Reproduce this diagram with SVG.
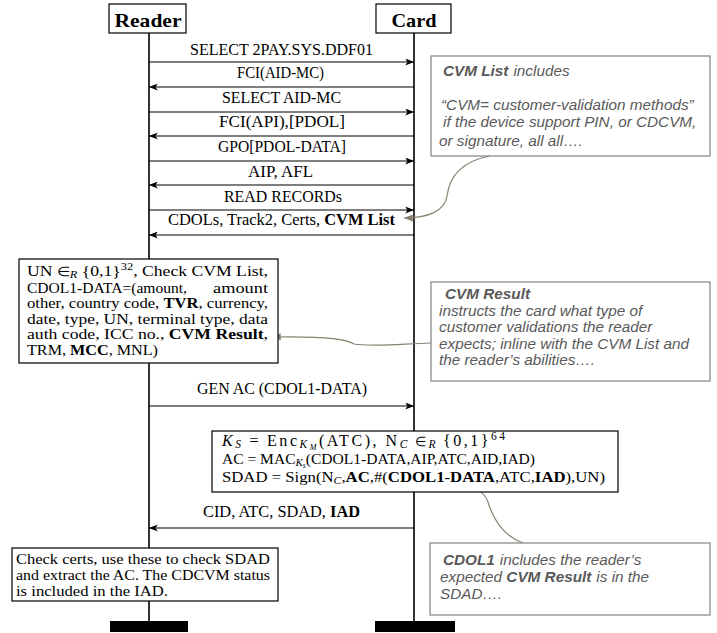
<svg xmlns="http://www.w3.org/2000/svg" width="717" height="633" viewBox="0 0 717 633">
  <style>
    .lbl { font-family: "Liberation Serif", "Times New Roman", serif; font-size: 16px; fill: #000; }
    .hdr { font-family: "Liberation Serif", "Times New Roman", serif; font-size: 19px; font-weight: bold; fill: #000; }
    .box { fill: #fff; stroke: #000; stroke-width: 1.2; }
    .life { stroke: #000; stroke-width: 1.6; fill: none; }
    .msg { stroke: #000; stroke-width: 1.1; fill: none; marker-end: url(#ah); }
    .txt { font-family: "Liberation Serif", "Times New Roman", serif; font-size: 15px; fill: #000; }
    .math { font-size: 16px; }
    .b { font-weight: bold; }
    .i { font-style: italic; }
    .sub { font-size: 10.5px; }
    .sub2 { font-size: 11.5px; }
    .el { font-size: 13px; }
    .note { fill: #fff; stroke: #808080; stroke-width: 1.2; }
    .ntxt { font-family: "Liberation Sans", Arial, sans-serif; font-size: 15.3px; font-style: italic; fill: #595959; }
    .link { stroke: #8a8070; stroke-width: 1.2; fill: none; marker-end: url(#gh); }
  </style>
  <defs>
    <marker id="ah" viewBox="0 0 10 8" refX="10" refY="4" markerWidth="9" markerHeight="7" orient="auto" markerUnits="userSpaceOnUse">
      <path d="M0,0 L10,4 L0,8 L2.5,4 z" fill="#000"/>
    </marker>
    <marker id="gh" viewBox="0 0 10 8" refX="10" refY="4" markerWidth="9" markerHeight="7" orient="auto" markerUnits="userSpaceOnUse">
      <path d="M0,0 L10,4 L0,8 z" fill="#8a8070"/>
    </marker>
  </defs>

  <!-- lifelines -->
  <g id="lifelines">
    <line class="life" x1="149" y1="33" x2="149" y2="622"/>
    <line class="life" x1="414" y1="33" x2="414" y2="622"/>
    <rect x="110" y="621" width="78" height="11" fill="#000"/>
    <rect x="375" y="621" width="80" height="11" fill="#000"/>
  </g>

  <!-- participants -->
  <g id="reader">
    <rect class="box" x="109" y="4" width="77" height="29"/>
    <text class="hdr" x="148" y="27" text-anchor="middle" textLength="67" lengthAdjust="spacingAndGlyphs">Reader</text>
  </g>
  <g id="card">
    <rect class="box" x="376" y="4" width="75" height="29"/>
    <text class="hdr" x="414" y="27" text-anchor="middle" textLength="45" lengthAdjust="spacingAndGlyphs">Card</text>
  </g>

  <!-- messages -->
  <g id="connectors">
    <line class="msg" x1="149" y1="62" x2="414" y2="62"/>
    <line class="msg" x1="414" y1="87" x2="149" y2="87"/>
    <line class="msg" x1="149" y1="112" x2="414" y2="112"/>
    <line class="msg" x1="414" y1="136" x2="149" y2="136"/>
    <line class="msg" x1="149" y1="161" x2="414" y2="161"/>
    <line class="msg" x1="414" y1="185" x2="149" y2="185"/>
    <line class="msg" x1="149" y1="210" x2="414" y2="210"/>
    <line class="msg" x1="414" y1="235" x2="149" y2="235"/>
    <line class="msg" x1="149" y1="406" x2="414" y2="406"/>
    <line class="msg" x1="414" y1="528" x2="149" y2="528"/>

    <text class="lbl" x="190" y="55" textLength="183" lengthAdjust="spacingAndGlyphs">SELECT 2PAY.SYS.DDF01</text>
    <text class="lbl" x="237" y="78" textLength="87" lengthAdjust="spacingAndGlyphs">FCI(AID-MC)</text>
    <text class="lbl" x="222" y="103" textLength="119" lengthAdjust="spacingAndGlyphs">SELECT AID-MC</text>
    <text class="lbl" x="219" y="127" textLength="126" lengthAdjust="spacingAndGlyphs">FCI(API),[PDOL]</text>
    <text class="lbl" x="218" y="152" textLength="128" lengthAdjust="spacingAndGlyphs">GPO[PDOL-DATA]</text>
    <text class="lbl" x="248" y="177" textLength="65" lengthAdjust="spacingAndGlyphs">AIP, AFL</text>
    <text class="lbl" x="224" y="202" textLength="118" lengthAdjust="spacingAndGlyphs">READ RECORDs</text>
    <text class="lbl" x="168" y="225" textLength="227" lengthAdjust="spacingAndGlyphs">CDOLs, Track2, Certs, <tspan class="b">CVM List</tspan></text>
    <text class="lbl" x="197" y="394" textLength="170" lengthAdjust="spacingAndGlyphs">GEN AC (CDOL1-DATA)</text>
    <text class="lbl" x="203" y="517" textLength="157" lengthAdjust="spacingAndGlyphs">CID, ATC, SDAD, <tspan class="b">IAD</tspan></text>

    <!-- annotation links -->
    <path class="link" d="M490,156 C458,162 449,180 447,196 C445,211 428,218 404,218"/>
    <path class="link" d="M431,343 C400,344 372,347 354,344 C345,338 320,336 272,337"/>
    <path class="link" d="M523,543 C500,535 492,515 488,502 C484,490 472,486 459,485"/>
  </g>

  <!-- reader computation before GEN AC -->
  <g id="reader-prepare">
    <rect class="box" x="19" y="259" width="259" height="104"/>
    <text class="txt" x="27" y="276" textLength="241" lengthAdjust="spacingAndGlyphs">UN <tspan class="el">∈</tspan><tspan class="sub i" dy="2">R</tspan><tspan dy="-2"> {0,1}</tspan><tspan class="sub" dy="-6">32</tspan><tspan dy="6">, Check CVM List,</tspan></text>
    <text class="txt" x="27" y="292.6" textLength="160" lengthAdjust="spacingAndGlyphs">CDOL1-DATA=(amount,</text>
    <text class="txt" x="213" y="292.6" textLength="55" lengthAdjust="spacingAndGlyphs">amount</text>
    <text class="txt" x="27" y="308.2" textLength="241" lengthAdjust="spacingAndGlyphs">other, country code, <tspan class="b">TVR</tspan>, currency,</text>
    <text class="txt" x="27" y="323.8" textLength="241" lengthAdjust="spacingAndGlyphs">date, type, UN, terminal type, data</text>
    <text class="txt" x="27" y="339.4" textLength="241" lengthAdjust="spacingAndGlyphs">auth code, ICC no., <tspan class="b">CVM Result</tspan>,</text>
    <text class="txt" x="27" y="355" textLength="131" lengthAdjust="spacingAndGlyphs">TRM, <tspan class="b">MCC</tspan>, MNL)</text>
  </g>

  <!-- card computation -->
  <g id="card-compute">
    <rect class="box" x="212" y="431" width="406" height="61"/>
    <text class="txt math" x="222" y="446" textLength="283" lengthAdjust="spacing"><tspan class="i">K</tspan><tspan class="sub2 i" dy="2">S</tspan><tspan dy="-2" dx="6">=</tspan><tspan dx="6">Enc</tspan><tspan class="sub2 i" dy="2">K</tspan><tspan class="i" font-size="8px" dy="1.5">M</tspan><tspan dy="-3.5">(ATC), N</tspan><tspan class="sub2 i" dy="2">C</tspan><tspan dy="-2" dx="5" class="el">∈</tspan><tspan class="sub2 i" dy="2">R</tspan><tspan dy="-2" dx="5">{0,1}</tspan><tspan class="sub2" dy="-6">64</tspan></text>
    <text class="txt" x="222" y="464" textLength="313" lengthAdjust="spacingAndGlyphs">AC = MAC<tspan class="sub i" dy="2">K</tspan><tspan class="i" font-size="7.5px" dy="1.5">s</tspan><tspan dy="-3.5">(CDOL1-DATA,AIP,ATC,AID,IAD)</tspan></text>
    <text class="txt" x="222" y="482" textLength="383" lengthAdjust="spacingAndGlyphs">SDAD = Sign(N<tspan class="sub i" dy="2">C</tspan><tspan dy="-2">,</tspan><tspan class="b">AC</tspan>,#(<tspan class="b">CDOL1-DATA</tspan>,ATC,<tspan class="b">IAD</tspan>),UN)</text>
  </g>

  <!-- reader verification -->
  <g id="reader-verify">
    <rect class="box" x="12" y="548" width="266" height="53"/>
    <text class="txt" x="16" y="564" textLength="254" lengthAdjust="spacingAndGlyphs">Check certs, use these to check SDAD</text>
    <text class="txt" x="16" y="580" textLength="254" lengthAdjust="spacingAndGlyphs">and extract the AC. The CDCVM status</text>
    <text class="txt" x="16" y="596" textLength="152" lengthAdjust="spacingAndGlyphs">is included in the IAD.</text>
  </g>

  <!-- annotations -->
  <g id="note-cvm-list">
    <rect class="note" x="431" y="56" width="279" height="100"/>
    <text class="ntxt" x="443" y="76"><tspan class="b">CVM List</tspan><tspan dx="5">includes</tspan></text>
    <text class="ntxt" x="441" y="110">“CVM= customer-validation methods”</text>
    <text class="ntxt" x="443" y="127">if the device support PIN, or CDCVM,</text>
    <text class="ntxt" x="439" y="146">or signature, all all….</text>
  </g>
  <g id="note-cvm-result">
    <rect class="note" x="431" y="282" width="279" height="99"/>
    <text class="ntxt b" x="445" y="299">CVM Result</text>
    <text class="ntxt" x="439" y="315.5">instructs the card what type of</text>
    <text class="ntxt" x="439" y="332">customer validations the reader</text>
    <text class="ntxt" x="439" y="348.5">expects; inline with the CVM List and</text>
    <text class="ntxt" x="439" y="365">the reader’s abilities….</text>
  </g>
  <g id="note-cdol1">
    <rect class="note" x="430" y="543" width="280" height="72"/>
    <text class="ntxt" x="443" y="565"><tspan class="b">CDOL1</tspan><tspan dx="5">includes the reader’s</tspan></text>
    <text class="ntxt" x="440" y="582">expected <tspan class="b">CVM Result</tspan><tspan dx="5">is in the</tspan></text>
    <text class="ntxt" x="440" y="599">SDAD….</text>
  </g>
</svg>
